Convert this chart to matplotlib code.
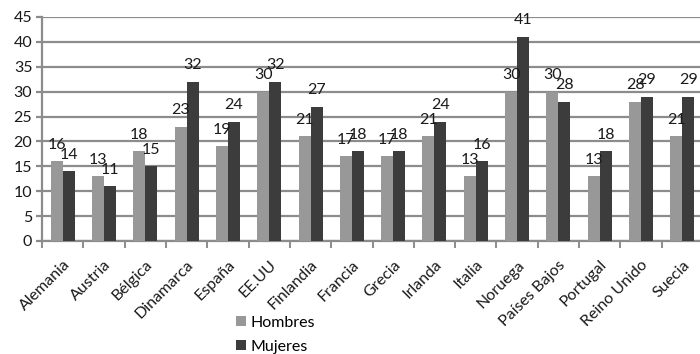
import matplotlib
matplotlib.use("Agg")
import matplotlib.pyplot as plt
import numpy as np

paises = ["Alemania", "Austria", "Bélgica", "Dinamarca", "España", "EE.UU",
          "Finlandia", "Francia", "Grecia", "Irlanda", "Italia", "Noruega",
          "Países Bajos", "Portugal", "Reino Unido", "Suecia"]
hombres = [16, 13, 18, 23, 19, 30, 21, 17, 17, 21, 13, 30, 30, 13, 28, 21]
mujeres = [14, 11, 15, 32, 24, 32, 27, 18, 18, 24, 16, 41, 28, 18, 29, 29]
yticks = [0, 5, 10, 15, 20, 25, 30, 35, 40, 45]

plt.rcParams["font.family"] = ["Lato", "DejaVu Sans"]

W, H = 700, 354
fig = plt.figure(figsize=(W / 100, H / 100), dpi=100)
left, right, top, bottom = 42, 703, 17, 241
ax = fig.add_axes([left / W, 1 - bottom / H, (right - left) / W, (bottom - top) / H])

grid_c = "#8c8c8c"
c_h = "#989898"
c_m = "#3c3c3c"
txt_c = "#1a1a1a"
fs = 11.5
bw = 0.29

x = np.arange(len(paises))
b1 = ax.bar(x - bw / 2, hombres, bw, color=c_h, label="Hombres", zorder=3)
b2 = ax.bar(x + bw / 2, mujeres, bw, color=c_m, label="Mujeres", zorder=3)

for bars, vals in ((b1, hombres), (b2, mujeres)):
    for r, v in zip(bars, vals):
        ax.annotate(str(v), (r.get_x() + r.get_width() / 2, v),
                    xytext=(0, 12), textcoords="offset points",
                    ha="center", va="center", fontsize=fs, color=txt_c,
                    zorder=5)

ax.set_xlim(-0.5, len(paises) - 0.5)
ax.set_ylim(0, 45)
ax.set_yticks(yticks)
ax.set_yticklabels([str(t) for t in yticks], fontsize=fs, color=txt_c)
ax.yaxis.grid(True, color=grid_c, linewidth=1.6, zorder=0)
ax.set_axisbelow(True)

# category boundary ticks on the x axis
ax.set_xticks(np.arange(len(paises) + 1) - 0.5, minor=False)
ax.set_xticklabels([])
ax.tick_params(axis="x", direction="out", length=5, width=1.4, color=grid_c)
ax.tick_params(axis="y", direction="out", length=4, width=1.6, color=grid_c, pad=3)
ax.set_xticks(x, minor=True)
ax.set_xticklabels(paises, minor=True, rotation=45, ha="right",
                   rotation_mode="anchor", fontsize=fs, color=txt_c)
ax.tick_params(axis="x", which="minor", length=0, pad=12)

for s in ("top", "right"):
    ax.spines[s].set_visible(False)
for s in ("left", "bottom"):
    ax.spines[s].set_color(grid_c)
    ax.spines[s].set_linewidth(1.6)

fig.legend(handles=[b1, b2], labels=["Hombres", "Mujeres"], loc="upper left",
           bbox_to_anchor=(228 / W, 1 - 308 / H), frameon=False,
           fontsize=fs, handlelength=0.6, handleheight=0.6,
           handletextpad=0.3, labelspacing=0.6, borderpad=0)

fig.savefig("out.png", dpi=100)
